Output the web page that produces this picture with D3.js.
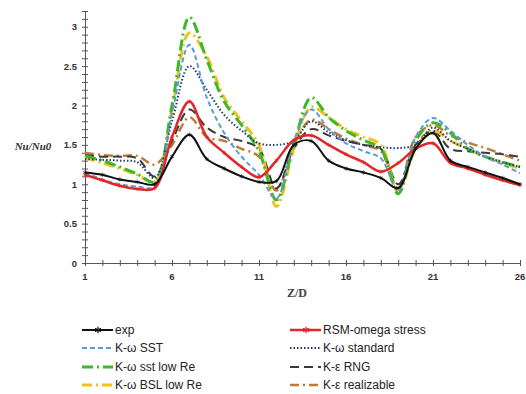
<!DOCTYPE html>
<html>
<head>
<meta charset="utf-8">
<script src="https://cdn.jsdelivr.net/npm/d3@7"></script>
<style>
  body { margin: 0; background: #fff; }
  svg { display: block; }
</style>
</head>
<body>
<div class="chart"></div>
<script>
// Z/D stations
var zd = d3.range(1, 27);

// Nu/Nu0 per model at each integer Z/D
var expData   = [1.15,1.12,1.06,1.03,1.0,1.35,1.63,1.32,1.2,1.1,1.03,1.04,1.5,1.55,1.3,1.2,1.15,1.08,0.95,1.45,1.65,1.3,1.22,1.15,1.08,1.0];
var rsmData   = [1.12,1.05,0.98,0.94,0.95,1.6,2.05,1.6,1.4,1.22,1.09,1.3,1.56,1.62,1.5,1.38,1.28,1.16,1.27,1.45,1.52,1.27,1.2,1.12,1.05,0.99];
var sstData   = [1.15,1.06,1.0,0.97,0.97,1.9,2.77,2.1,1.65,1.35,1.12,0.82,1.55,1.95,1.7,1.52,1.42,1.33,0.92,1.6,1.84,1.68,1.5,1.35,1.25,1.14];
var stdData   = [1.32,1.31,1.3,1.28,1.08,1.8,2.5,2.2,1.88,1.68,1.52,1.5,1.55,1.8,1.66,1.56,1.5,1.47,1.46,1.5,1.72,1.55,1.45,1.35,1.28,1.22];
var lowReData = [1.36,1.3,1.22,1.13,1.03,2.0,3.12,2.58,2.05,1.75,1.42,0.8,1.5,2.1,1.85,1.68,1.56,1.45,0.88,1.55,1.78,1.65,1.45,1.35,1.28,1.22];
var bslData   = [1.34,1.27,1.2,1.12,1.03,1.95,2.92,2.62,2.1,1.8,1.5,0.72,1.45,1.98,1.85,1.7,1.6,1.5,0.9,1.45,1.68,1.55,1.45,1.35,1.27,1.2];
var rngData   = [1.37,1.35,1.35,1.33,1.1,1.55,1.95,1.72,1.6,1.55,1.45,0.95,1.45,1.7,1.62,1.55,1.5,1.45,1.0,1.5,1.68,1.45,1.42,1.4,1.38,1.35];
var realData  = [1.4,1.37,1.36,1.36,1.25,1.5,1.85,1.6,1.55,1.45,1.35,0.92,1.5,1.82,1.7,1.58,1.5,1.42,0.95,1.6,1.75,1.62,1.53,1.46,1.38,1.3];

var yLabels = [0, 0.5, 1, 1.5, 2, 2.5, 3];
var xLabels = [1, 6, 11, 16, 21, 26];

// drawing order: back to front
var series = [
  { name: "K-ε realizable", data: realData, color: "#c07a3a", width: 2.5, dash: "9,4,2,4" },
  { name: "K-ε RNG", data: rngData, color: "#3a3a3a", width: 2, dash: "9,5" },
  { name: "K-ω BSL low Re", data: bslData, color: "#f2c21b", width: 3, dash: "10,4,2,4" },
  { name: "K-ω sst low Re", data: lowReData, color: "#3cb82a", width: 3, dash: "11,4,2,4" },
  { name: "K-ω standard", data: stdData, color: "#1f3b70", width: 2, dash: "1.5,2" },
  { name: "K-ω SST", data: sstData, color: "#5b9bd5", width: 2, dash: "5,3" },
  { name: "RSM-omega stress", data: rsmData, color: "#e3262a", width: 2.5, dash: null, marker: true },
  { name: "exp", data: expData, color: "#111", width: 2, dash: null, marker: true }
];

var legendOrder = ["exp", "RSM-omega stress", "K-ω SST", "K-ω standard",
  "K-ω sst low Re", "K-ε RNG", "K-ω BSL low Re", "K-ε realizable"];

var width = 526, height = 394;

var svg = d3.select(".chart").append("svg")
  .attr("width", width)
  .attr("height", height);

var x = d3.scaleLinear().domain([1, 26]).range([85, 520]);
var y = d3.scaleLinear().domain([0, 3.2]).range([263, 11]);

// axes with ticks crossing the line
var axisColor = "#555";
function styleAxis(g) {
  g.selectAll("path,line").attr("stroke", axisColor).attr("stroke-width", 1);
}

var yMinor = d3.range(0, 3.21, 0.1);
svg.append("g").attr("transform", "translate(85,0)")
  .call(d3.axisLeft(y).tickValues(yMinor).tickSize(3).tickSizeOuter(0).tickFormat(""))
  .call(styleAxis);
svg.append("g").attr("transform", "translate(85,0)")
  .call(d3.axisRight(y).tickValues(yMinor).tickSize(3).tickSizeOuter(0).tickFormat(""))
  .call(styleAxis);

svg.append("g").attr("transform", "translate(0,263)")
  .call(d3.axisBottom(x).tickValues(zd).tickSize(3).tickSizeOuter(0).tickFormat(""))
  .call(styleAxis);
svg.append("g").attr("transform", "translate(0,263)")
  .call(d3.axisTop(x).tickValues(zd).tickSize(3).tickSizeOuter(0).tickFormat(""))
  .call(styleAxis);

// tick labels
svg.append("g").selectAll("text")
  .data(yLabels)
  .join("text")
  .attr("x", 77)
  .attr("y", d => y(d) + 3.5)
  .attr("text-anchor", "end")
  .attr("font-family", "Liberation Sans, Arial, sans-serif")
  .attr("font-weight", "bold")
  .attr("font-size", 9.5)
  .attr("fill", "#333")
  .text(d => d);

svg.append("g").selectAll("text")
  .data(xLabels)
  .join("text")
  .attr("x", d => x(d))
  .attr("y", 280)
  .attr("text-anchor", "middle")
  .attr("font-family", "Liberation Sans, Arial, sans-serif")
  .attr("font-weight", "bold")
  .attr("font-size", 9.5)
  .attr("fill", "#333")
  .text(d => d);

svg.append("text")
  .attr("x", 297).attr("y", 297)
  .attr("text-anchor", "middle")
  .attr("font-family", "Liberation Serif, serif")
  .attr("font-weight", "bold")
  .attr("font-size", 12)
  .attr("fill", "#444")
  .text("Z/D");

svg.append("text")
  .attr("x", 33).attr("y", 150)
  .attr("text-anchor", "middle")
  .attr("font-family", "Liberation Serif, serif")
  .attr("font-weight", "bold")
  .attr("font-style", "italic")
  .attr("font-size", 11)
  .attr("fill", "#333")
  .text("Nu/Nu0");

// curves, smoothed like the spreadsheet original
var line = d3.line()
  .x((d, i) => x(zd[i]))
  .y(d => y(d))
  .curve(d3.curveCatmullRom.alpha(0.5));

var star = d3.symbol().type(d3.symbolAsterisk).size(14);

series.forEach(function(s) {
  svg.append("path")
    .datum(s.data)
    .attr("fill", "none")
    .attr("stroke", s.color)
    .attr("stroke-width", s.width)
    .attr("stroke-dasharray", s.dash)
    .attr("stroke-linejoin", "round")
    .attr("d", line);

  if (s.marker) {
    svg.append("g").selectAll("path")
      .data(s.data)
      .join("path")
      .attr("transform", (d, i) => "translate(" + x(zd[i]) + "," + y(d) + ")")
      .attr("d", star)
      .attr("fill", "none")
      .attr("stroke", s.color)
      .attr("stroke-opacity", 0.7)
      .attr("stroke-width", 0.8);
  }
});

// legend, two columns
var byName = {};
series.forEach(s => byName[s.name] = s);

var rowY = [330, 348, 367, 385];
var colX = [82, 290];

legendOrder.forEach(function(name, i) {
  var s = byName[name];
  var cx = colX[i % 2], cy = rowY[Math.floor(i / 2)];
  var g = svg.append("g");
  g.append("line")
    .attr("x1", cx).attr("x2", cx + 31)
    .attr("y1", cy).attr("y2", cy)
    .attr("stroke", s.color)
    .attr("stroke-width", s.width)
    .attr("stroke-dasharray", s.dash);
  if (s.marker) {
    g.append("path")
      .attr("transform", "translate(" + (cx + 16) + "," + cy + ")")
      .attr("d", d3.symbol().type(d3.symbolAsterisk).size(30))
      .attr("stroke", s.color)
      .attr("stroke-width", 1.2);
  }
  g.append("text")
    .attr("x", cx + 33)
    .attr("y", cy + 4)
    .attr("font-family", "Liberation Sans, Arial, sans-serif")
    .attr("font-size", 12)
    .attr("fill", "#222")
    .text(name);
});
</script>
</body>
</html>
